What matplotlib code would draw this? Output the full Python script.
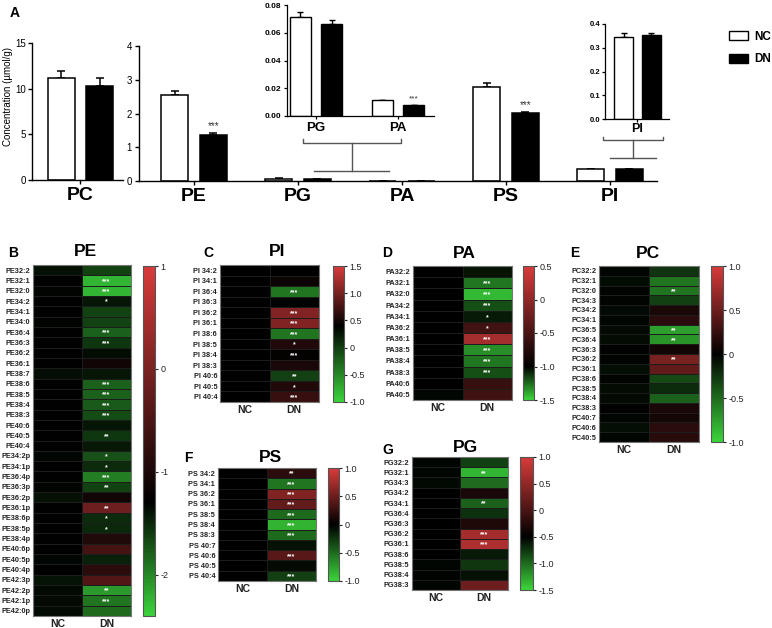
import numpy as np
import matplotlib
matplotlib.use('Agg')
import matplotlib.pyplot as plt
from matplotlib.colors import LinearSegmentedColormap, Normalize
from matplotlib.lines import Line2D
from matplotlib.patches import Patch
from matplotlib.ticker import FuncFormatter

plt.rcParams['font.family'] = ['Liberation Sans', 'DejaVu Sans']
plt.rcParams['axes.unicode_minus'] = False

# ---- Panel A: concentraciones (umol/g) ----
pc_nc, pc_nc_err = 11.2, 0.7
pc_dn, pc_dn_err = 10.3, 0.9

clases = ['PE', 'PG', 'PA', 'PS', 'PI']
nc_vals = [2.55, 0.071, 0.0113, 2.80, 0.346]
nc_errs = [0.12, 0.004, 0.0003, 0.10, 0.015]
dn_vals = [1.37, 0.066, 0.0076, 2.01, 0.353]
dn_errs = [0.05, 0.003, 0.0002, 0.03, 0.008]
sig_main = ['***', '', '', '***', '']
sig_inset = ['', '***']  # PG, PA

# ---- Heatmaps ----
pe_filas = ['PE32:2', 'PE32:1', 'PE32:0', 'PE34:2', 'PE34:1', 'PE34:0', 'PE36:4', 'PE36:3',
            'PE36:2', 'PE36:1', 'PE38:7', 'PE38:6', 'PE38:5', 'PE38:4', 'PE38:3', 'PE40:6',
            'PE40:5', 'PE40:4', 'PE34:2p', 'PE34:1p', 'PE36:4p', 'PE36:3p', 'PE36:2p', 'PE36:1p',
            'PE38:6p', 'PE38:5p', 'PE38:4p', 'PE40:6p', 'PE40:5p', 'PE40:4p', 'PE42:3p', 'PE42:2p',
            'PE42:1p', 'PE42:0p']
pe_nc = [-1.38, -1.31, -1.32, -1.30, -1.31, -1.32, -1.31, -1.30, -1.30, -1.30, -1.37, -1.30,
         -1.30, -1.30, -1.30, -1.31, -1.30, -1.30, -1.33, -1.31, -1.31, -1.32, -1.38, -1.30,
         -1.30, -1.30, -1.30, -1.31, -1.33, -1.30, -1.40, -1.35, -1.34, -1.35]
pe_dn = [-1.63, -2.24, -2.24, -1.41, -1.63, -1.63, -1.80, -1.58, -1.36, -1.12, -1.41, -1.80,
         -1.80, -1.76, -1.69, -1.41, -1.58, -1.43, -1.72, -1.52, -1.94, -1.63, -1.12, -0.15,
         -1.52, -1.50, -0.96, -0.56, -1.47, -0.84, -0.43, -2.09, -1.90, -1.85]
pe_sig = ['', '***', '***', '*', '', '', '***', '***', '', '', '', '***', '***', '***', '***', '',
          '**', '', '*', '*', '***', '**', '', '**', '*', '*', '', '', '', '', '', '**', '***', '']

pi_filas = ['PI 34:2', 'PI 34:1', 'PI 36:4', 'PI 36:3', 'PI 36:2', 'PI 36:1', 'PI 38:6',
            'PI 38:5', 'PI 38:4', 'PI 38:3', 'PI 40:6', 'PI 40:5', 'PI 40:4']
pi_nc = [0.40, 0.40, 0.39, 0.40, 0.40, 0.40, 0.40, 0.40, 0.40, 0.40, 0.39, 0.40, 0.40]
pi_dn = [0.40, 0.46, -0.37, 0.38, 1.06, 1.06, -0.37, 0.57, 0.42, 0.53, -0.02, 0.57, 0.68]
pi_sig = ['', '', '***', '', '***', '***', '***', '*', '***', '', '**', '*', '***']

pa_filas = ['PA32:2', 'PA32:1', 'PA32:0', 'PA34:2', 'PA34:1', 'PA36:2', 'PA36:1', 'PA38:5',
            'PA38:4', 'PA38:3', 'PA40:6', 'PA40:5']
pa_nc = [-1.0, -1.0, -1.0, -1.0, -1.0, -1.0, -1.0, -1.0, -1.0, -1.0, -1.0, -1.01]
pa_dn = [-1.04, -1.28, -1.43, -1.18, -1.06, -0.55, 0.13, -1.33, -1.28, -1.18, -0.63, -0.55]
pa_sig = ['', '***', '***', '***', '*', '*', '***', '***', '***', '***', '', '']

pc_filas = ['PC32:2', 'PC32:1', 'PC32:0', 'PC34:3', 'PC34:2', 'PC34:1', 'PC36:5', 'PC36:4',
            'PC36:3', 'PC36:2', 'PC36:1', 'PC38:6', 'PC38:5', 'PC38:4', 'PC38:3', 'PC40:7',
            'PC40:6', 'PC40:5']
pc_nc_hm = [-0.03, -0.06, -0.02, -0.02, -0.04, -0.03, -0.05, -0.05, -0.01, -0.02, -0.07, -0.02,
            -0.05, -0.05, -0.01, -0.03, -0.07, -0.03]
pc_dn_hm = [-0.25, -0.55, -0.55, -0.30, 0.12, 0.20, -0.75, -0.70, 0.08, 0.55, 0.45, -0.35,
            -0.20, -0.45, 0.12, 0.10, 0.20, 0.18]
pc_sig = ['', '', '**', '', '', '', '**', '**', '', '**', '', '', '', '', '', '', '', '']

ps_filas = ['PS 34:2', 'PS 34:1', 'PS 36:2', 'PS 36:1', 'PS 38:5', 'PS 38:4', 'PS 38:3',
            'PS 40:7', 'PS 40:6', 'PS 40:5', 'PS 40:4']
ps_nc = [0.0, 0.0, 0.0, 0.0, 0.0, 0.0, 0.0, 0.0, 0.0, 0.0, 0.0]
ps_dn = [0.20, -0.55, 0.60, 0.45, -0.50, -0.85, -0.50, -0.08, 0.40, -0.05, -0.30]
ps_sig = ['**', '***', '***', '***', '***', '***', '***', '', '***', '', '***']

pg_filas = ['PG32:2', 'PG32:1', 'PG34:3', 'PG34:2', 'PG34:1', 'PG36:4', 'PG36:3', 'PG36:2',
            'PG36:1', 'PG38:6', 'PG38:5', 'PG38:4', 'PG38:3']
pg_nc = [-0.53, -0.53, -0.54, -0.50, -0.50, -0.50, -0.50, -0.50, -0.50, -0.50, -0.53, -0.52, -0.53]
pg_dn = [-0.80, -1.35, -1.00, -0.32, -0.95, -0.72, -0.28, 0.62, 0.70, -0.62, -0.75, -0.58, 0.25]
pg_sig = ['', '**', '', '', '**', '', '', '***', '***', '', '', '', '']

W, H = 772, 628
fig = plt.figure(figsize=(W / 100, H / 100), dpi=100)


def caja(x0, y0, x1, y1):
    return [x0 / W, 1 - y1 / H, (x1 - x0) / W, (y1 - y0) / H]


def linea(xs, ys, color='#555555', lw=1.0):
    fig.add_artist(Line2D([x / W for x in xs], [1 - y / H for y in ys], color=color, lw=lw,
                          transform=fig.transFigure))


def estilo(ax, lw=1.0):
    for s in ['top', 'right']:
        ax.spines[s].set_visible(False)
    for s in ['left', 'bottom']:
        ax.spines[s].set_linewidth(lw)


def barras(ax, pos, nc, ncerr, dn, dnerr, ancho, off, lw=1.1, cap=3):
    pos = np.asarray(pos, dtype=float)
    nc = np.atleast_1d(nc); dn = np.atleast_1d(dn)
    ncerr = np.atleast_1d(ncerr); dnerr = np.atleast_1d(dnerr)
    ax.bar(pos - off, nc, ancho, color='white', edgecolor='black', linewidth=lw, zorder=2)
    ax.bar(pos + off, dn, ancho, color='black', edgecolor='black', linewidth=lw, zorder=2)
    ax.errorbar(pos - off, nc, yerr=[np.zeros_like(ncerr), ncerr], fmt='none', ecolor='black',
                elinewidth=lw, capsize=cap, capthick=lw, zorder=1)
    ax.errorbar(pos + off, dn, yerr=[np.zeros_like(dnerr), dnerr], fmt='none', ecolor='black',
                elinewidth=lw, capsize=cap, capthick=lw, zorder=1)


# ---------------- Panel A ----------------
fig.text(10 / W, 1 - 13 / H, 'A', fontsize=10, fontweight='bold', va='center')
fig.text(8 / W, 1 - 97 / H, 'Concentration (µmol/g)', rotation=90, fontsize=7,
         va='center', ha='center')

# PC
ax_pc = fig.add_axes(caja(32, 43, 123, 180))
barras(ax_pc, [0], pc_nc, pc_nc_err, pc_dn, pc_dn_err, 0.26, 0.185)
ax_pc.set_xlim(-0.466, 0.409)
ax_pc.set_ylim(0, 15)
ax_pc.set_yticks([0, 5, 10, 15])
ax_pc.set_xticks([0], ['PC'], fontsize=14, fontweight='bold')
estilo(ax_pc)
ax_pc.tick_params(axis='y', labelsize=7, length=3, width=1, pad=1.5)
ax_pc.tick_params(axis='x', length=3, width=1, pad=2)

# PE..PI
ax_m = fig.add_axes(caja(139, 46, 657, 181))
pos = np.arange(len(clases))
barras(ax_m, pos, nc_vals, nc_errs, dn_vals, dn_errs, 0.26, 0.185)
for i, s in enumerate(sig_main):
    if s:
        ax_m.text(pos[i] + 0.185, dn_vals[i] + dn_errs[i] + 0.06, s, ha='center', va='bottom',
                  fontsize=7, color='#333333')
ax_m.set_xlim(-0.529, 4.452)
ax_m.set_ylim(0, 4)
ax_m.set_yticks([0, 1, 2, 3, 4])
ax_m.set_xticks(pos, clases, fontsize=14, fontweight='bold')
estilo(ax_m)
ax_m.tick_params(axis='y', labelsize=7, length=3, width=1, pad=2)
ax_m.tick_params(axis='x', length=3, width=1, pad=2)

# inserto PG / PA
ax_i1 = fig.add_axes(caja(287, 5, 434, 116))
p1 = np.arange(2)
barras(ax_i1, p1, nc_vals[1:3], nc_errs[1:3], dn_vals[1:3], dn_errs[1:3], 0.26, 0.19,
       lw=1.0, cap=2.5)
for i, s in enumerate(sig_inset):
    if s:
        ax_i1.text(p1[i] + 0.19, dn_vals[1 + i] + dn_errs[1 + i] + 0.002, s, ha='center',
                   va='bottom', fontsize=6, color='#333333')
ax_i1.set_xlim(-0.354, 1.44)
ax_i1.set_ylim(0, 0.08)
ax_i1.set_yticks([0, 0.02, 0.04, 0.06, 0.08])
ax_i1.yaxis.set_major_formatter(FuncFormatter(lambda v, p: f'{v:.2f}'))
ax_i1.set_xticks(p1, clases[1:3], fontsize=9.5, fontweight='bold')
estilo(ax_i1, 0.9)
ax_i1.tick_params(axis='y', labelsize=6, length=2.5, width=0.9, pad=1.5)
ax_i1.tick_params(axis='x', length=2.5, width=0.9, pad=2)
for t in ax_i1.get_yticklabels():
    t.set_fontweight('bold')

# inserto PI
ax_i2 = fig.add_axes(caja(605, 24, 669, 119))
barras(ax_i2, [0], nc_vals[4], nc_errs[4], dn_vals[4], dn_errs[4], 0.23, 0.17, lw=1.0, cap=2.5)
ax_i2.set_xlim(-0.396, 0.384)
ax_i2.set_ylim(0, 0.4)
ax_i2.set_yticks([0, 0.1, 0.2, 0.3, 0.4])
ax_i2.yaxis.set_major_formatter(FuncFormatter(lambda v, p: f'{v:.1f}'))
ax_i2.set_xticks([0], ['PI'], fontsize=9, fontweight='bold')
estilo(ax_i2, 0.9)
ax_i2.tick_params(axis='y', labelsize=5.5, length=2, width=0.9, pad=1.5)
ax_i2.tick_params(axis='x', length=2, width=0.9, pad=1)
for t in ax_i2.get_yticklabels():
    t.set_fontweight('bold')

# corchetes que unen los insertos
linea([303, 303, 401, 401], [139, 143, 143, 139])
linea([352, 352], [143, 171])
linea([314, 389], [171, 171])
linea([603, 603, 663, 663], [137, 140, 140, 137])
linea([633, 633], [140, 158])
linea([610, 656], [158, 158])

fig.legend(handles=[Patch(facecolor='white', edgecolor='black', linewidth=1),
                    Patch(facecolor='black', edgecolor='black')],
           labels=['NC', 'DN'], loc='upper left', bbox_to_anchor=(724 / W, 1 - 26 / H),
           frameon=False, prop={'weight': 'bold', 'size': 8.5}, handlelength=1.6,
           handleheight=0.8, labelspacing=0.9, handletextpad=0.6, borderaxespad=0)


# ---------------- Heatmaps ----------------
def heatmap(letra, titulo, filas, nc, dn, sig, vmin, vmax, vnegro, hm, cb, ticks, fmt,
            tit_xy, let_xy):
    f = (vnegro - vmin) / (vmax - vmin)
    cmap = LinearSegmentedColormap.from_list('vr', [(0, '#3bd43b'), (f, '#000000'),
                                                    (1, '#d93b3b')])
    ax = fig.add_axes(caja(*hm))
    datos = np.column_stack([nc, dn])
    m = ax.pcolormesh(datos, cmap=cmap, norm=Normalize(vmin, vmax), edgecolors='#1c1c1c',
                      linewidth=0.5)
    n = len(filas)
    ax.set_xlim(0, 2)
    ax.set_ylim(n, 0)
    ax.set_yticks(np.arange(n) + 0.5, filas, fontsize=5.3, fontweight='bold', color='#222222')
    ax.set_xticks([0.5, 1.5], ['NC', 'DN'], fontsize=7.5, fontweight='bold', color='#222222')
    ax.tick_params(length=0, pad=2)
    for s in ax.spines.values():
        s.set_color('#777777')
        s.set_linewidth(0.8)
    for i, s in enumerate(sig):
        if s:
            ax.text(1.5, i + 0.6, s, color='white', ha='center', va='center', fontsize=5,
                    fontweight='bold')
    cax = fig.add_axes(caja(*cb))
    c = fig.colorbar(m, cax=cax, ticks=ticks)
    c.ax.yaxis.set_major_formatter(FuncFormatter(fmt))
    c.ax.tick_params(labelsize=6.5, length=2, width=0.8, pad=2, colors='#222222')
    c.outline.set_edgecolor('#555555')
    c.outline.set_linewidth(0.8)
    fig.text(tit_xy[0] / W, 1 - tit_xy[1] / H, titulo, fontsize=12.5, fontweight='bold',
             ha='center', va='center')
    fig.text(let_xy[0] / W, 1 - let_xy[1] / H, letra, fontsize=10, fontweight='bold',
             ha='left', va='center')


def fmt_dec(v, p):
    return '0' if abs(v) < 1e-9 else f'{v:.1f}'


def fmt_int(v, p):
    return f'{v:.0f}'


heatmap('B', 'PE', pe_filas, pe_nc, pe_dn, pe_sig, -2.4, 1.0, -1.3,
        (33, 265, 131, 616), (143, 266, 155, 616), [1, 0, -1, -2], fmt_int, (85, 251), (8, 253))
heatmap('C', 'PI', pi_filas, pi_nc, pi_dn, pi_sig, -1.0, 1.5, 0.4,
        (220, 265, 319, 402), (333, 266, 344, 402), [1.5, 1.0, 0.5, 0, -0.5, -1.0], fmt_dec,
        (277, 252), (203, 253))
heatmap('D', 'PA', pa_filas, pa_nc, pa_dn, pa_sig, -1.5, 0.5, -1.0,
        (413, 266, 512, 400), (523, 266, 534, 400), [0.5, 0, -0.5, -1.0, -1.5], fmt_dec,
        (464, 253), (382, 253))
heatmap('E', 'PC', pc_filas, pc_nc_hm, pc_dn_hm, pc_sig, -1.0, 1.0, 0.0,
        (599, 266, 699, 442), (711, 266, 723, 442), [1.0, 0.5, 0, -0.5, -1.0], fmt_dec,
        (648, 253), (570, 253))
heatmap('F', 'PS', ps_filas, ps_nc, ps_dn, ps_sig, -1.0, 1.0, 0.0,
        (218, 468, 316, 581), (328, 468, 339, 581), [1.0, 0.5, 0, -0.5, -1.0], fmt_dec,
        (270, 457), (184, 458))
heatmap('G', 'PG', pg_filas, pg_nc, pg_dn, pg_sig, -1.5, 1.0, -0.5,
        (412, 457, 508, 590), (520, 457, 533, 590), [1.0, 0.5, 0, -0.5, -1.0, -1.5], fmt_dec,
        (466, 448), (382, 450))

fig.savefig('out.png', dpi=100)
